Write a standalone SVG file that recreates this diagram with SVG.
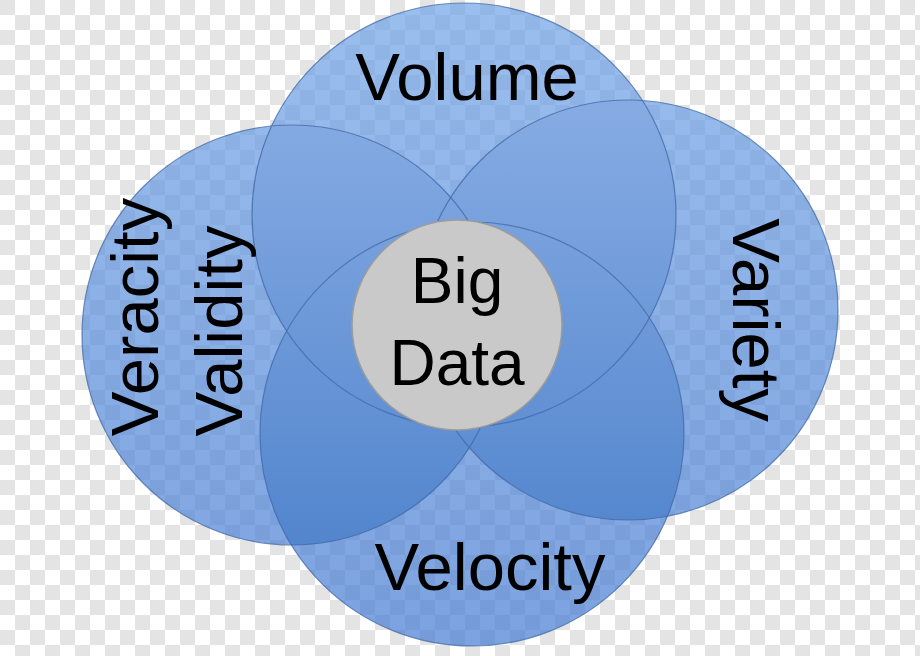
<svg xmlns="http://www.w3.org/2000/svg" xmlns:xlink="http://www.w3.org/1999/xlink" width="920" height="656" viewBox="0 0 920 656">
  <defs>
    <pattern id="checker" x="0" y="0" width="30" height="30" patternUnits="userSpaceOnUse">
      <rect x="0" y="0" width="30" height="30" fill="#ffffff"/>
      <rect x="0" y="0" width="15" height="15" fill="#e4e4e4"/>
      <rect x="15" y="15" width="15" height="15" fill="#e4e4e4"/>
    </pattern>
    <linearGradient id="singleFill" gradientUnits="userSpaceOnUse" x1="0" y1="0" x2="0" y2="656">
      <stop offset="0" stop-color="#70a3e6"/>
      <stop offset="1" stop-color="#447ad2"/>
    </linearGradient>
    <linearGradient id="overlapFill" gradientUnits="userSpaceOnUse" x1="0" y1="110" x2="0" y2="550">
      <stop offset="0" stop-color="#86abe3"/>
      <stop offset="1" stop-color="#5285cd"/>
    </linearGradient>
    <circle id="cTop" cx="464" cy="215" r="212"/>
    <circle id="cRight" cx="628" cy="310" r="210"/>
    <circle id="cBottom" cx="472" cy="434" r="212"/>
    <circle id="cLeft" cx="292" cy="335" r="210"/>
    <clipPath id="clipTop"><use xlink:href="#cTop" href="#cTop"/></clipPath>
    <clipPath id="clipRight"><use xlink:href="#cRight" href="#cRight"/></clipPath>
    <clipPath id="clipBottom"><use xlink:href="#cBottom" href="#cBottom"/></clipPath>
    <clipPath id="clipLeft"><use xlink:href="#cLeft" href="#cLeft"/></clipPath>
    <style>
      .petal { fill: url(#singleFill); fill-opacity: 0.7; }
      .ov { fill: url(#overlapFill); }
      .edge { fill: none; stroke: #4169a6; stroke-opacity: 0.75; stroke-width: 1.2; }
      .core { fill: #c9c9c9; stroke: #9c9c9c; stroke-width: 1.5; }
      .lbl { font-family: "Liberation Sans", Arial, sans-serif; font-size: 67px; fill: #000000; text-anchor: middle; }
    </style>
  </defs>

  <rect x="0" y="0" width="920" height="656" fill="url(#checker)"/>

  <g id="volume">
    <use class="petal" xlink:href="#cTop" href="#cTop"/>
  </g>
  <g id="variety">
    <use class="petal" xlink:href="#cRight" href="#cRight"/>
  </g>
  <g id="velocity">
    <use class="petal" xlink:href="#cBottom" href="#cBottom"/>
  </g>
  <g id="veracity-validity">
    <use class="petal" xlink:href="#cLeft" href="#cLeft"/>
  </g>

  <g id="overlaps">
    <use class="ov" xlink:href="#cTop" href="#cTop" clip-path="url(#clipLeft)"/>
    <use class="ov" xlink:href="#cTop" href="#cTop" clip-path="url(#clipRight)"/>
    <use class="ov" xlink:href="#cTop" href="#cTop" clip-path="url(#clipBottom)"/>
    <use class="ov" xlink:href="#cBottom" href="#cBottom" clip-path="url(#clipLeft)"/>
    <use class="ov" xlink:href="#cBottom" href="#cBottom" clip-path="url(#clipRight)"/>
    <use class="ov" xlink:href="#cLeft" href="#cLeft" clip-path="url(#clipRight)"/>
  </g>

  <g id="outlines">
    <use class="edge" xlink:href="#cTop" href="#cTop"/>
    <use class="edge" xlink:href="#cRight" href="#cRight"/>
    <use class="edge" xlink:href="#cBottom" href="#cBottom"/>
    <use class="edge" xlink:href="#cLeft" href="#cLeft"/>
  </g>

  <g id="connectors"/>

  <g id="labels">
    <text class="lbl" x="467" y="100" font-size="68">Volume</text>
    <text class="lbl" x="490" y="590">Velocity</text>
    <text class="lbl" transform="translate(733,320) rotate(90)">Variety</text>
    <text class="lbl" transform="translate(158,317) rotate(-90)">Veracity</text>
    <text class="lbl" transform="translate(242,331) rotate(-90)">Validity</text>
  </g>

  <g id="big-data">
    <circle class="core" cx="457" cy="325" r="105"/>
    <text class="lbl" x="457" y="303" style="font-size:64px">Big</text>
    <text class="lbl" x="457" y="385" style="font-size:64px">Data</text>
  </g>
</svg>
